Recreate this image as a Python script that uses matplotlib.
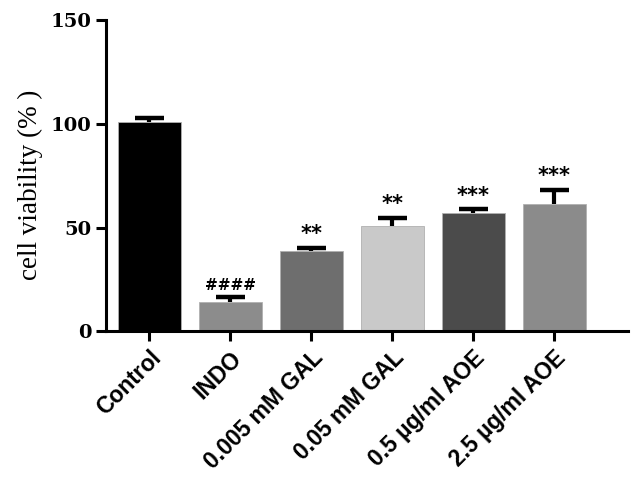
import numpy as np
import matplotlib.pyplot as plt

# data
groups = ['Control', 'INDO', '0.005 mM GAL', '0.05 mM GAL', '0.5 µg/ml AOE', '2.5 µg/ml AOE']
viability = [101, 14, 38.6, 50.6, 56.8, 61.2]
sem = [1.8, 2.5, 1.5, 4.0, 2.0, 7.0]
marks = ['####', '**', '**', '***', '***']
colors = ['#000000', '#8c8c8c', '#6e6e6e', '#c9c9c9', '#4b4b4b', '#8b8b8b']

fig = plt.figure(figsize=(6.4, 4.8), dpi=100)
ax = fig.add_axes([0.166, 0.31, 0.815, 0.648])

x = np.arange(len(groups))
w = 0.78
ax.bar(x, viability, width=w, color=colors, edgecolor='#b0b0b0', linewidth=0.6, zorder=2)

# only the upper half of each error bar
tops = np.array(viability) + np.array(sem)
ax.vlines(x, viability, tops, color='black', linewidth=3, zorder=3)
ax.hlines(tops, x - 0.18, x + 0.18, color='black', linewidth=3.2, zorder=3)

# significance marks
for i, m in enumerate(marks, start=1):
    fs = 11 if m.startswith('#') else 15
    ax.text(x[i], tops[i] + 1.8, m, ha='center', va='bottom',
            fontsize=fs, fontweight='bold', fontfamily='DejaVu Sans')

ax.set_xlim(-0.53, 5.91)
ax.set_ylim(0, 150)
ax.set_yticks([0, 50, 100, 150])
ax.set_xticks(x)
ax.set_xticklabels(groups, rotation=45, ha='right', rotation_mode='anchor',
                   fontsize=16.5, fontweight='bold', fontfamily='Liberation Sans')
for lab in ax.get_yticklabels():
    lab.set_fontfamily('DejaVu Serif')
    lab.set_fontweight('bold')
    lab.set_fontsize(14)
ax.set_ylabel('cell viability (% )', fontsize=19.5, fontfamily='Liberation Serif')
ax.yaxis.set_label_coords(-0.122, 0.47)

for s in ['top', 'right']:
    ax.spines[s].set_visible(False)
for s in ['left', 'bottom']:
    ax.spines[s].set_linewidth(2.2)
ax.tick_params(width=2.2, length=7)
ax.tick_params(axis='x', pad=4)

plt.savefig('out.png', dpi=100)
